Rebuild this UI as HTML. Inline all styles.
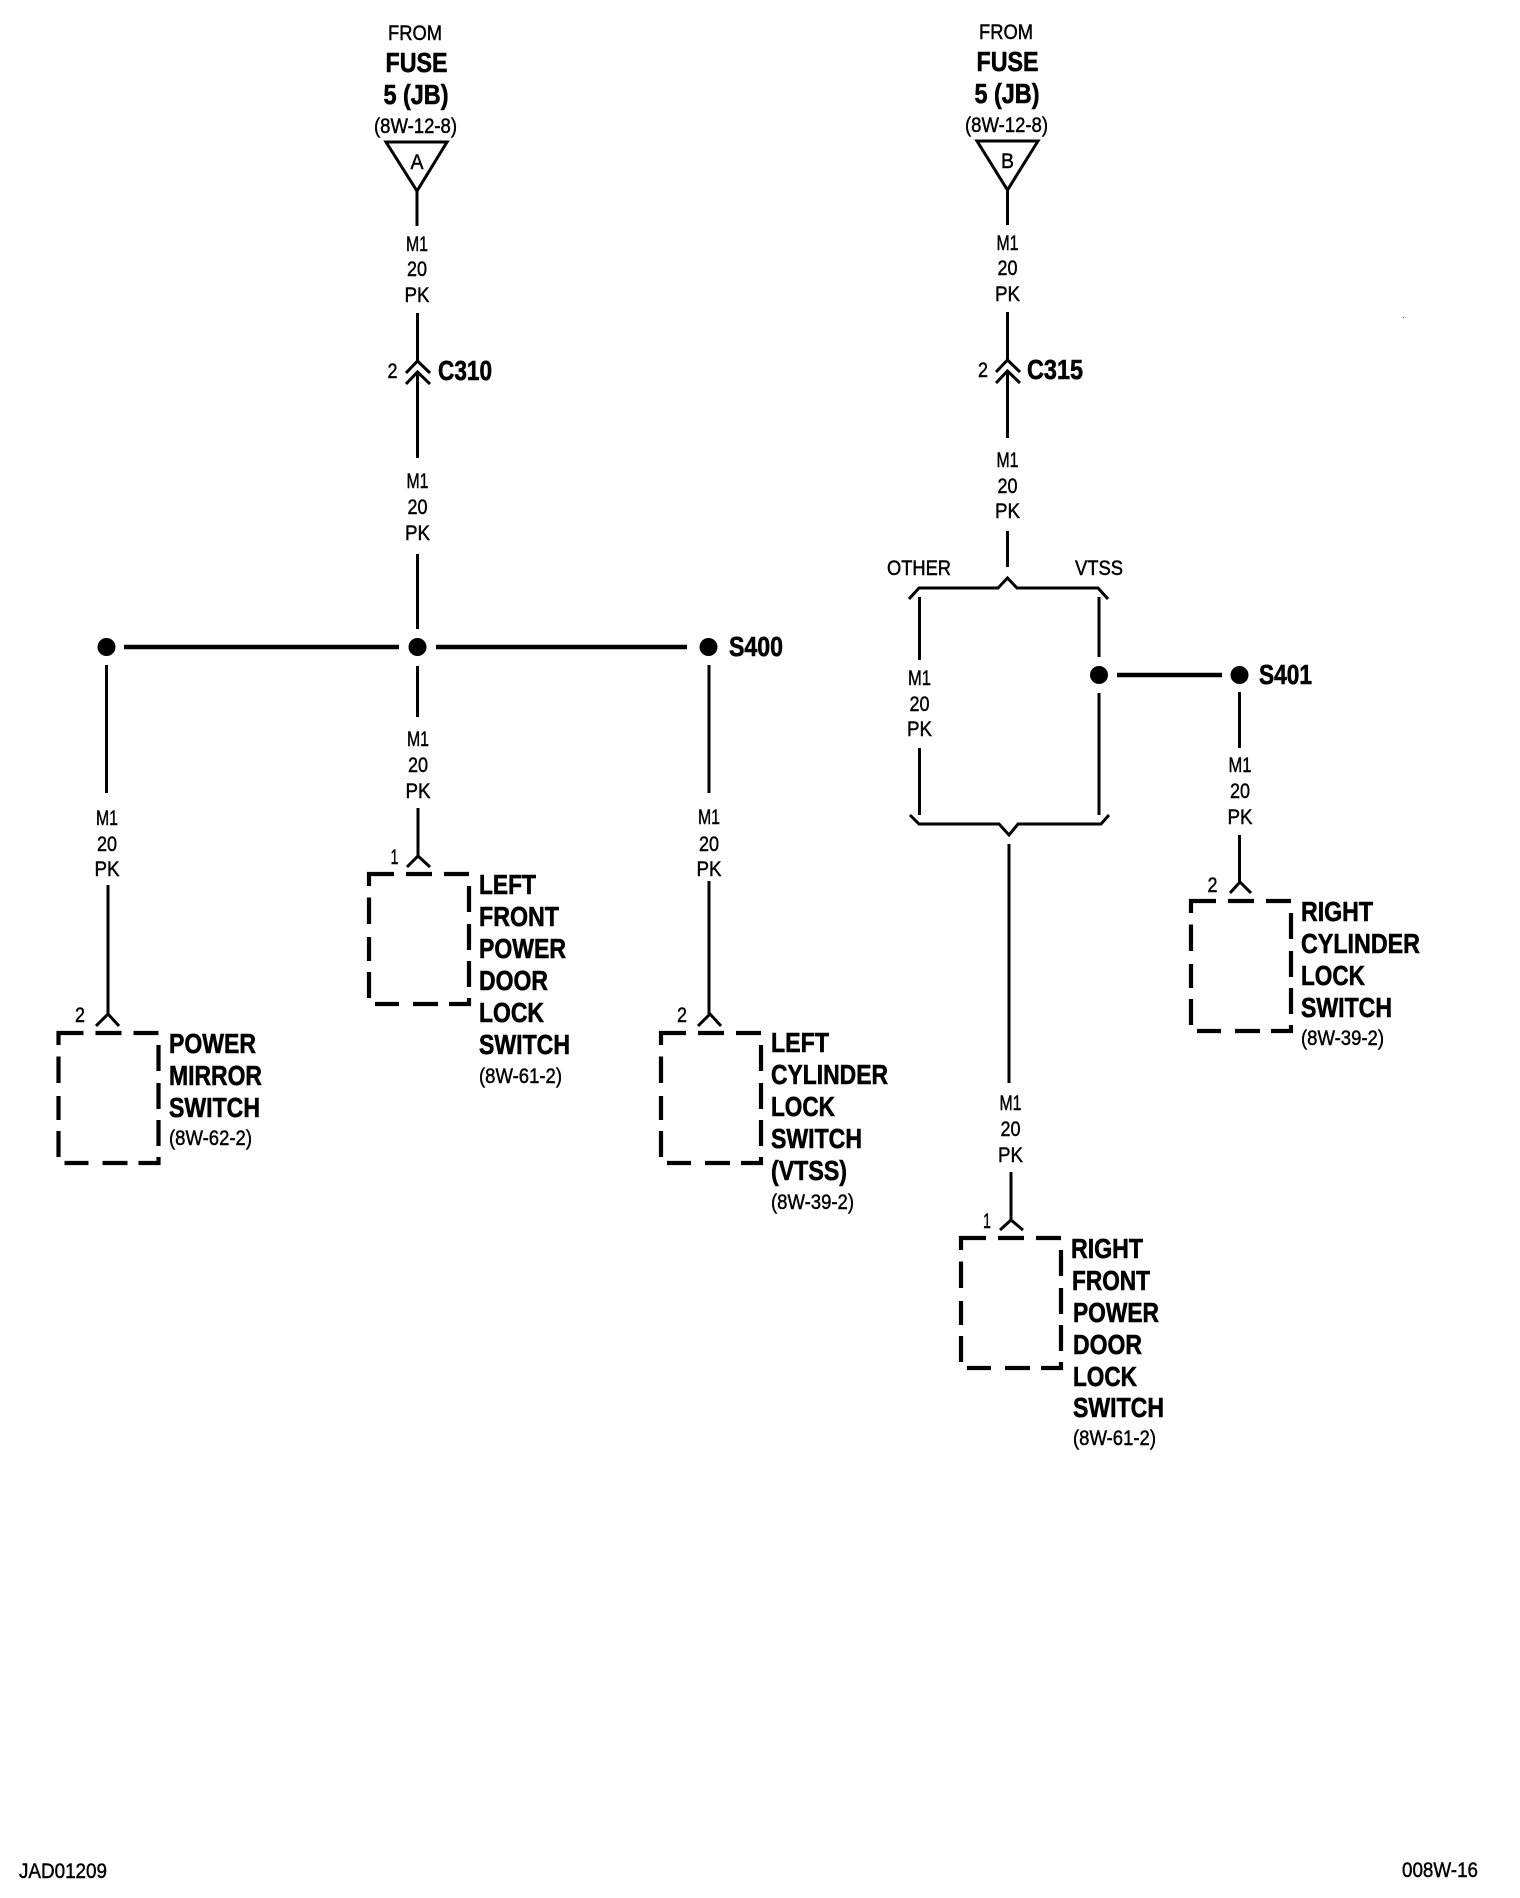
<!DOCTYPE html>
<html>
<head>
<meta charset="utf-8">
<title>Wiring diagram 008W-16</title>
<style>
html,body{margin:0;padding:0;background:#fff;}
svg{display:block;}
text{font-family:"Liberation Sans",Arial,sans-serif;fill:#000;stroke:#000;stroke-width:.45;transform:translateY(-1px);}
.r{font-size:21px;}
.b{font-size:28px;font-weight:bold;stroke-width:.6;}
.c{text-anchor:middle;}
.w{fill:none;stroke:#000;stroke-width:3;}
.h{fill:none;stroke:#000;stroke-width:4.5;}
</style>
</head>
<body>
<svg width="1520" height="1898" viewBox="0 0 1520 1898" xmlns="http://www.w3.org/2000/svg">
<rect width="1520" height="1898" fill="#fff"/>
<defs>
<g id="box" fill="none" stroke="#000" stroke-width="4.2">
<path d="M0,12V0H25M37,0H63M75,0H100M0,23.5V50M0,63V87M0,98V124M100,12V38M100,50V76M100,87V113M100,124V130H80M6,130H30M44,130H69"/>
</g>
</defs>

<!-- Left feed -->
<text class="r c" x="415" y="41" textLength="54" lengthAdjust="spacingAndGlyphs">FROM</text>
<text class="b c" x="416.5" y="73" textLength="62" lengthAdjust="spacingAndGlyphs">FUSE</text>
<text class="b c" x="416" y="105" textLength="65" lengthAdjust="spacingAndGlyphs">5 (JB)</text>
<text class="r c" x="415.5" y="134" textLength="83" lengthAdjust="spacingAndGlyphs">(8W-12-8)</text>
<path class="w" stroke-width="2.5" d="M386,142H447L417,191Z"/>
<text class="r c" x="417" y="170" textLength="13" lengthAdjust="spacingAndGlyphs">A</text>
<path class="w" d="M417,191V226"/>
<text class="r c" x="417" y="252" textLength="22" lengthAdjust="spacingAndGlyphs">M1</text>
<text class="r c" x="417" y="277" textLength="20" lengthAdjust="spacingAndGlyphs">20</text>
<text class="r c" x="417" y="303" textLength="25" lengthAdjust="spacingAndGlyphs">PK</text>
<path class="w" d="M417.5,313V362M417.5,372V458"/>
<path class="w" d="M406,373L417.5,361L430,373M406,384L417.5,372L430,384"/>
<text class="r c" x="392.5" y="379" textLength="10" lengthAdjust="spacingAndGlyphs">2</text>
<text class="b" x="438" y="381" textLength="54" lengthAdjust="spacingAndGlyphs">C310</text>
<text class="r c" x="417.5" y="489" textLength="22" lengthAdjust="spacingAndGlyphs">M1</text>
<text class="r c" x="417.5" y="515" textLength="20" lengthAdjust="spacingAndGlyphs">20</text>
<text class="r c" x="417.5" y="541" textLength="25" lengthAdjust="spacingAndGlyphs">PK</text>
<path class="w" d="M417.5,554V629"/>

<!-- S400 bus -->
<circle cx="106.5" cy="647" r="9"/>
<circle cx="417.5" cy="647" r="9"/>
<circle cx="708.5" cy="647" r="9"/>
<path class="h" d="M124,647H399M436,647H687"/>
<text class="b" x="729" y="657" textLength="54" lengthAdjust="spacingAndGlyphs">S400</text>

<!-- Power mirror branch -->
<path class="w" d="M106.5,665V793M108,885V1014"/>
<text class="r c" x="107" y="826" textLength="22" lengthAdjust="spacingAndGlyphs">M1</text>
<text class="r c" x="107" y="852" textLength="20" lengthAdjust="spacingAndGlyphs">20</text>
<text class="r c" x="107" y="877" textLength="25" lengthAdjust="spacingAndGlyphs">PK</text>
<path class="w" d="M96,1026L108,1014L119,1026"/>
<text class="r c" x="80" y="1023" textLength="10" lengthAdjust="spacingAndGlyphs">2</text>
<use href="#box" transform="translate(58.5,1033)"/>
<text class="b" x="169" y="1054" textLength="87" lengthAdjust="spacingAndGlyphs">POWER</text>
<text class="b" x="169" y="1086" textLength="93" lengthAdjust="spacingAndGlyphs">MIRROR</text>
<text class="b" x="169" y="1118" textLength="91" lengthAdjust="spacingAndGlyphs">SWITCH</text>
<text class="r" x="169" y="1146" textLength="83" lengthAdjust="spacingAndGlyphs">(8W-62-2)</text>

<!-- Left front door lock branch -->
<path class="w" d="M417.5,666V717M418,808V856"/>
<text class="r c" x="418" y="747" textLength="22" lengthAdjust="spacingAndGlyphs">M1</text>
<text class="r c" x="418" y="773" textLength="20" lengthAdjust="spacingAndGlyphs">20</text>
<text class="r c" x="418" y="799" textLength="25" lengthAdjust="spacingAndGlyphs">PK</text>
<path class="w" d="M407,867L418,856L430,867"/>
<text class="r c" x="394.5" y="865" textLength="8" lengthAdjust="spacingAndGlyphs">1</text>
<use href="#box" transform="translate(369,874)"/>
<text class="b" x="479" y="895" textLength="57" lengthAdjust="spacingAndGlyphs">LEFT</text>
<text class="b" x="479" y="927" textLength="80" lengthAdjust="spacingAndGlyphs">FRONT</text>
<text class="b" x="479" y="959" textLength="87" lengthAdjust="spacingAndGlyphs">POWER</text>
<text class="b" x="479" y="991" textLength="69" lengthAdjust="spacingAndGlyphs">DOOR</text>
<text class="b" x="479" y="1023" textLength="65" lengthAdjust="spacingAndGlyphs">LOCK</text>
<text class="b" x="479" y="1055" textLength="91" lengthAdjust="spacingAndGlyphs">SWITCH</text>
<text class="r" x="479" y="1084" textLength="83" lengthAdjust="spacingAndGlyphs">(8W-61-2)</text>

<!-- Left cylinder branch -->
<path class="w" d="M709,665V793M709,881V1014"/>
<text class="r c" x="709" y="825" textLength="22" lengthAdjust="spacingAndGlyphs">M1</text>
<text class="r c" x="709" y="852" textLength="20" lengthAdjust="spacingAndGlyphs">20</text>
<text class="r c" x="709" y="877" textLength="25" lengthAdjust="spacingAndGlyphs">PK</text>
<path class="w" d="M698,1026L710,1014L721,1026"/>
<text class="r c" x="682" y="1023" textLength="10" lengthAdjust="spacingAndGlyphs">2</text>
<use href="#box" transform="translate(661,1033)"/>
<text class="b" x="771" y="1053" textLength="58" lengthAdjust="spacingAndGlyphs">LEFT</text>
<text class="b" x="771" y="1085" textLength="117" lengthAdjust="spacingAndGlyphs">CYLINDER</text>
<text class="b" x="771" y="1117" textLength="64" lengthAdjust="spacingAndGlyphs">LOCK</text>
<text class="b" x="771" y="1149" textLength="91" lengthAdjust="spacingAndGlyphs">SWITCH</text>
<text class="b" x="771" y="1181" textLength="76" lengthAdjust="spacingAndGlyphs">(VTSS)</text>
<text class="r" x="771" y="1210" textLength="83" lengthAdjust="spacingAndGlyphs">(8W-39-2)</text>

<!-- Right feed -->
<text class="r c" x="1006" y="40" textLength="54" lengthAdjust="spacingAndGlyphs">FROM</text>
<text class="b c" x="1007.5" y="72" textLength="62" lengthAdjust="spacingAndGlyphs">FUSE</text>
<text class="b c" x="1007" y="104" textLength="65" lengthAdjust="spacingAndGlyphs">5 (JB)</text>
<text class="r c" x="1006.5" y="133" textLength="83" lengthAdjust="spacingAndGlyphs">(8W-12-8)</text>
<path class="w" stroke-width="2.5" d="M977,141H1038L1007.5,190Z"/>
<text class="r c" x="1007.5" y="169" textLength="13" lengthAdjust="spacingAndGlyphs">B</text>
<path class="w" d="M1007.5,190V225"/>
<text class="r c" x="1007.5" y="251" textLength="22" lengthAdjust="spacingAndGlyphs">M1</text>
<text class="r c" x="1007.5" y="276" textLength="20" lengthAdjust="spacingAndGlyphs">20</text>
<text class="r c" x="1007.5" y="302" textLength="25" lengthAdjust="spacingAndGlyphs">PK</text>
<path class="w" d="M1007.5,312V361M1007.5,371V438"/>
<path class="w" d="M996,372L1007.5,360L1020,372M996,383L1007.5,371L1020,383"/>
<text class="r c" x="983" y="378" textLength="10" lengthAdjust="spacingAndGlyphs">2</text>
<text class="b" x="1027" y="380" textLength="56" lengthAdjust="spacingAndGlyphs">C315</text>
<text class="r c" x="1007.5" y="468" textLength="22" lengthAdjust="spacingAndGlyphs">M1</text>
<text class="r c" x="1007.5" y="494" textLength="20" lengthAdjust="spacingAndGlyphs">20</text>
<text class="r c" x="1007.5" y="519" textLength="25" lengthAdjust="spacingAndGlyphs">PK</text>
<path class="w" d="M1007.5,531V567"/>

<!-- Option bracket -->
<text class="r" x="887" y="576" textLength="64" lengthAdjust="spacingAndGlyphs">OTHER</text>
<text class="r" x="1075" y="576" textLength="48" lengthAdjust="spacingAndGlyphs">VTSS</text>
<path class="w" d="M909,599L919,588H998L1007.5,578L1017,588H1098L1108,599"/>
<path class="w" d="M919.5,597V660M919.5,748V815"/>
<text class="r c" x="919.5" y="686" textLength="23" lengthAdjust="spacingAndGlyphs">M1</text>
<text class="r c" x="919.5" y="712" textLength="20" lengthAdjust="spacingAndGlyphs">20</text>
<text class="r c" x="919.5" y="737" textLength="25" lengthAdjust="spacingAndGlyphs">PK</text>
<path class="w" d="M1099,597V657M1099,693V815"/>
<path class="w" d="M910,815L919,824H999L1009,835L1018,824H1101L1109,815"/>
<circle cx="1099" cy="675" r="9"/>
<circle cx="1239.5" cy="675" r="9"/>
<path class="h" d="M1117,675H1222"/>
<text class="b" x="1259" y="685" textLength="53" lengthAdjust="spacingAndGlyphs">S401</text>

<!-- Right cylinder branch -->
<path class="w" d="M1239.5,692V748M1239.5,835V882"/>
<text class="r c" x="1240" y="773" textLength="23" lengthAdjust="spacingAndGlyphs">M1</text>
<text class="r c" x="1240" y="799" textLength="20" lengthAdjust="spacingAndGlyphs">20</text>
<text class="r c" x="1240" y="825" textLength="25" lengthAdjust="spacingAndGlyphs">PK</text>
<path class="w" d="M1230,893L1240,882L1251,893"/>
<text class="r c" x="1212.5" y="893" textLength="10" lengthAdjust="spacingAndGlyphs">2</text>
<use href="#box" transform="translate(1191,901)"/>
<text class="b" x="1301" y="922" textLength="72" lengthAdjust="spacingAndGlyphs">RIGHT</text>
<text class="b" x="1301" y="954" textLength="119" lengthAdjust="spacingAndGlyphs">CYLINDER</text>
<text class="b" x="1301" y="986" textLength="64" lengthAdjust="spacingAndGlyphs">LOCK</text>
<text class="b" x="1301" y="1018" textLength="91" lengthAdjust="spacingAndGlyphs">SWITCH</text>
<text class="r" x="1301" y="1046" textLength="83" lengthAdjust="spacingAndGlyphs">(8W-39-2)</text>

<!-- Right front door lock branch -->
<path class="w" d="M1009,844V1083M1011,1172V1220"/>
<text class="r c" x="1010.5" y="1111" textLength="22" lengthAdjust="spacingAndGlyphs">M1</text>
<text class="r c" x="1010.5" y="1137" textLength="20" lengthAdjust="spacingAndGlyphs">20</text>
<text class="r c" x="1010.5" y="1163" textLength="25" lengthAdjust="spacingAndGlyphs">PK</text>
<path class="w" d="M1000,1230L1011,1220L1023,1230"/>
<text class="r c" x="987" y="1229" textLength="8" lengthAdjust="spacingAndGlyphs">1</text>
<use href="#box" transform="translate(961,1238)"/>
<text class="b" x="1071" y="1259" textLength="72" lengthAdjust="spacingAndGlyphs">RIGHT</text>
<text class="b" x="1072" y="1291" textLength="78" lengthAdjust="spacingAndGlyphs">FRONT</text>
<text class="b" x="1073" y="1323" textLength="86" lengthAdjust="spacingAndGlyphs">POWER</text>
<text class="b" x="1073" y="1355" textLength="69" lengthAdjust="spacingAndGlyphs">DOOR</text>
<text class="b" x="1073" y="1387" textLength="64" lengthAdjust="spacingAndGlyphs">LOCK</text>
<text class="b" x="1073" y="1418" textLength="91" lengthAdjust="spacingAndGlyphs">SWITCH</text>
<text class="r" x="1073" y="1446" textLength="83" lengthAdjust="spacingAndGlyphs">(8W-61-2)</text>

<!-- Footer -->
<text class="r" x="19" y="1879" textLength="88" lengthAdjust="spacingAndGlyphs">JAD01209</text>
<text class="r" x="1402" y="1878" textLength="76" lengthAdjust="spacingAndGlyphs">008W-16</text>
<rect x="1403" y="317" width="1" height="1" fill="#555"/>
</svg>
</body>
</html>
